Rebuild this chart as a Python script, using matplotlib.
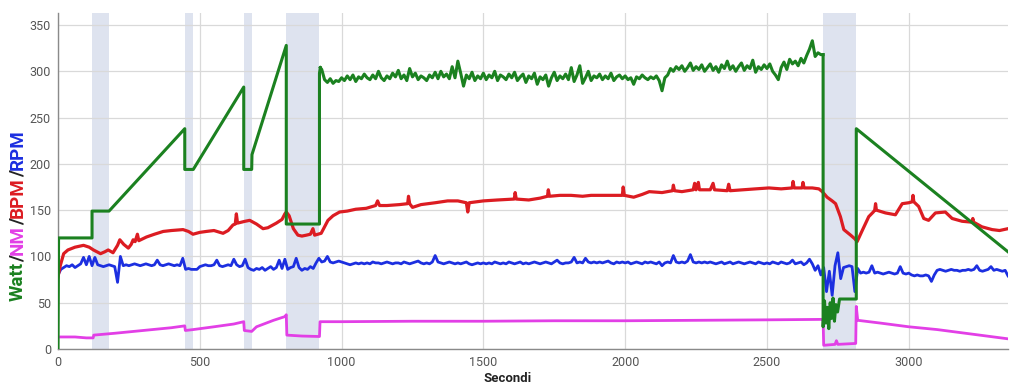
import numpy as np
import matplotlib
matplotlib.use("Agg")
import matplotlib.pyplot as plt

# colours
GREEN = "#1b8120"
RED = "#dc1c22"
BLUE = "#1c2fe0"
MAGENTA = "#e23fe6"
BAND = "#dee3ef"

# shaded intervals (seconds)
band_start = [120, 447, 655, 805, 2698]
band_end = [180, 477, 684, 922, 2815]

# Watt: ramps, noisy steady block, recovery
watt_ramp_t = [0, 2, 120, 120, 180, 447, 447, 477, 655, 655, 683, 684, 805, 805, 922, 922, 925]
watt_ramp_v = [0, 120, 120, 149, 149, 238, 194, 194, 283, 194, 194, 210, 328, 135, 135, 298, 304]
watt_noisy_t = np.arange(930, 2700, 10)
watt_noisy_v = [
    302, 291, 288, 292, 287, 290, 289,
    293, 290, 295, 291, 296, 289, 294, 292, 297, 293,
    291, 296, 292, 300, 293, 290, 295, 292, 298, 294,
    301, 292, 296, 290, 303, 294, 298, 291, 295, 293,
    290, 296, 293, 299, 292, 300, 294, 297, 292, 305,
    293, 311, 298, 284, 296, 292, 299, 290, 295, 292,
    298, 291, 296, 293, 300, 290, 296, 294, 291, 297,
    293, 299, 290, 294, 297, 288, 295, 292, 298, 286,
    294, 291, 296, 284, 293, 299, 290, 295, 292, 297,
    291, 304, 289, 296, 306, 287, 293, 300, 290, 295,
    293, 297, 291, 295, 292, 298, 290, 294, 296, 292,
    295, 291, 293, 286, 294, 292, 296, 293, 291, 294,
    292, 295, 290, 279, 293, 296, 303, 300, 305, 302,
    306, 300, 304, 309, 301, 305, 302, 307, 300, 304,
    308, 301, 305, 299, 307, 303, 311, 302, 306, 300,
    305, 309, 301, 306, 303, 312, 299, 305, 302, 307,
    303, 308, 300, 296, 291, 304, 310, 302, 313, 308,
    311, 306, 314, 309, 317, 324, 333, 316, 320, 318,
]
watt_end_t = [2698, 2698, 2703, 2708, 2713, 2718, 2723, 2728, 2733, 2738, 2743, 2749, 2756, 2815, 2815, 3350]
watt_end_v = [318, 24, 52, 28, 45, 22, 50, 33, 55, 30, 48, 40, 54, 54, 238, 105]

# BPM
bpm_t = [0, 8, 20, 35, 60, 90, 110, 125, 150, 165, 177, 194, 210, 218, 232, 248, 258, 265,
         272, 280, 285, 312, 340, 371, 400, 441, 460, 476, 500, 523, 550, 582, 600, 617, 625,
         629, 633, 660, 676, 700, 723, 740, 770, 790, 800, 805, 815, 830, 846, 860, 876, 890,
         899, 905, 928, 940, 952, 970, 993, 1020, 1050, 1087, 1120, 1127, 1134, 1160, 1204,
         1233, 1236, 1240, 1250, 1280, 1330, 1374, 1410, 1440, 1445, 1450, 1500, 1550, 1609,
         1612, 1616, 1660, 1700, 1726, 1729, 1733, 1770, 1809, 1850, 1880, 1920, 1960, 1990,
         1993, 1997, 2030, 2060, 2085, 2130, 2167, 2170, 2174, 2200, 2240, 2245, 2250, 2258,
         2262, 2300, 2310, 2315, 2360, 2365, 2370, 2413, 2460, 2507, 2550, 2589, 2592, 2596,
         2624, 2627, 2631, 2660, 2683, 2695, 2712, 2730, 2742, 2759, 2771, 2795, 2810, 2818,
         2836, 2859, 2875, 2880, 2883, 2886, 2918, 2953, 2977, 3000, 3012, 3015, 3018, 3035,
         3053, 3070, 3094, 3129, 3153, 3188, 3223, 3226, 3229, 3258, 3294, 3320, 3350]
bpm_v = [78, 90, 103, 107, 110, 112, 110, 107, 103, 105, 107, 104, 112, 118, 113, 109, 113, 118,
         116, 124, 117, 121, 124, 127, 128, 129, 127, 124, 126, 127, 128, 125, 128, 134, 135,
         146, 136, 138, 139, 135, 130, 131, 136, 140, 146, 148, 144, 130, 123, 122, 123, 124,
         130, 123, 125, 132, 139, 144, 148, 149, 151, 152, 155, 160, 155, 155, 156,
         157, 165, 157, 153, 156, 158, 160, 160, 158, 148, 158, 160, 161, 162,
         169, 162, 161, 163, 165, 172, 165, 166, 166, 165, 166, 166, 166, 166,
         175, 166, 164, 167, 170, 169, 171, 177, 171, 170, 172, 179, 172, 180,
         172, 172, 179, 172, 171, 178, 171, 172, 173, 174, 173, 174, 181, 174,
         174, 180, 174, 174, 173, 170, 164, 160, 157, 143, 129, 123, 119, 116,
         128, 143, 148, 150, 157, 150, 147, 145, 157, 158, 159, 166, 159, 154,
         141, 139, 147, 148, 141, 138, 137, 141, 137, 132, 129, 128, 130]

# RPM, every 10 s
rpm_t = np.arange(0, 3351, 10)
rpm_v = [
    80, 86, 88, 90, 89, 91, 88, 90, 92, 99,
    91, 100, 90, 99, 91, 90, 89, 90, 91, 90,
    89, 72, 100, 90, 91, 90, 91, 92, 91, 90,
    91, 92, 91, 90, 91, 96, 91, 90, 91, 92,
    91, 90, 91, 90, 98, 86, 87, 86, 86, 86,
    89, 90, 91, 90, 90, 91, 96, 90, 89, 90,
    91, 90, 97, 91, 89, 90, 97, 88, 86, 85,
    87, 86, 88, 85, 87, 89, 86, 88, 96, 87,
    97, 86, 88, 89, 98, 88, 85, 87, 86, 89,
    87, 93, 98, 94, 95, 100, 94, 93, 94, 95,
    94, 93, 92, 91, 92, 93, 92, 93, 92, 93,
    92, 94, 93, 93, 92, 93, 94, 93, 92, 93,
    93, 92, 94, 93, 92, 93, 94, 95, 93, 92,
    93, 92, 94, 101, 94, 93, 92, 93, 94, 93,
    92, 93, 92, 93, 94, 92, 91, 92, 93, 92,
    93, 92, 93, 92, 94, 93, 92, 93, 92, 94,
    93, 92, 93, 94, 92, 93, 92, 93, 94, 93,
    92, 93, 94, 93, 92, 94, 96, 93, 92, 93,
    93, 94, 99, 93, 94, 93, 98, 94, 93, 94,
    93, 94, 93, 94, 95, 93, 92, 94, 93, 94,
    93, 94, 92, 93, 94, 93, 92, 94, 93, 94,
    93, 92, 94, 90, 93, 94, 93, 101, 94, 93,
    94, 93, 95, 102, 94, 93, 94, 93, 94, 93,
    94, 93, 92, 93, 94, 92, 93, 94, 92, 93,
    94, 93, 92, 93, 94, 93, 92, 94, 93, 92,
    93, 92, 94, 93, 92, 94, 93, 92, 93, 96,
    92, 93, 94, 91, 93, 97, 92, 85, 90, 80,
    88, 62, 84, 58, 90, 104, 76, 88, 89, 90,
    89, 62, 87, 82, 83, 82, 83, 90, 82, 83,
    82, 81, 82, 83, 82, 81, 82, 89, 82, 81,
    82, 80, 79, 80, 79, 79, 80, 79, 73, 80,
    85, 86, 85, 84, 85, 86, 85, 85, 84, 85,
    85, 86, 85, 86, 90, 85, 84, 85, 86, 89,
    85, 86, 85, 84, 85, 79,
]

# NM
nm_t = [0, 60, 100, 124, 126, 200, 300, 400, 447, 449, 477, 550, 620, 655, 657, 683, 700, 760,
        800, 805, 807, 860, 922, 924, 1000, 1250, 1500, 1750, 2000, 2250, 2500, 2695, 2698,
        2700, 2740, 2745, 2750, 2813, 2815, 2820, 2900, 3000, 3100, 3200, 3300, 3350]
nm_v = [13, 13, 12, 12, 15, 17, 20, 23, 25, 20, 21, 24, 27, 29.5, 20, 19, 24, 31,
        35, 37, 15, 14, 13.5, 29.5, 29.5, 30, 30, 30.5, 30.5, 31, 31.5, 32, 32,
        4, 5, 9, 5, 6, 46, 31, 28, 24, 21, 17, 13, 11]

fig = plt.figure(figsize=(10.24, 3.87), dpi=100)
ax = fig.add_axes([58 / 1024, 1 - 349 / 387, 950 / 1024, 336 / 387])

for s, e in zip(band_start, band_end):
    ax.axvspan(s, e, color=BAND, lw=0, zorder=0)

ax.plot(nm_t, nm_v, color=MAGENTA, lw=2.0, zorder=3)
ax.plot(rpm_t, rpm_v, color=BLUE, lw=2.0, zorder=4)
ax.plot(bpm_t, bpm_v, color=RED, lw=2.3, zorder=5)
ax.plot(watt_ramp_t, watt_ramp_v, color=GREEN, lw=2.2, zorder=6)
ax.plot(np.concatenate([[925], watt_noisy_t, [2698]]),
        np.concatenate([[304], watt_noisy_v, [318]]), color=GREEN, lw=2.2, zorder=6)
ax.plot(watt_end_t, watt_end_v, color=GREEN, lw=2.2, zorder=6)

ax.set_xlim(0, 3350)
ax.set_ylim(0, 363)
ax.set_xticks([0, 500, 1000, 1500, 2000, 2500, 3000])
ax.set_yticks([0, 50, 100, 150, 200, 250, 300, 350])
ax.grid(True, color="#d9d9d9", lw=0.9, zorder=1)
ax.set_axisbelow(True)
for side in ["top", "right"]:
    ax.spines[side].set_visible(False)
for side in ["left", "bottom"]:
    ax.spines[side].set_color("#8a8a8a")
    ax.spines[side].set_linewidth(1.0)
ax.tick_params(length=0, labelsize=9, labelcolor="#555555", pad=5)
for lab in ax.get_xticklabels() + ax.get_yticklabels():
    lab.set_family("Roboto")

ax.set_xlabel("Secondi", fontsize=9.5, fontweight="bold", color="#222222", family="Roboto")
ax.xaxis.set_label_coords((508 - 58) / 950, -0.068)

# multicoloured y label
parts = [("Watt", GREEN), ("/", "#222222"), ("NM", MAGENTA), ("/", "#222222"),
         ("BPM", RED), ("/", "#222222"), ("RPM", BLUE)]
renderer = fig.canvas.get_renderer()
texts = []
for s, c in parts:
    t = fig.text(18 / 1024, 0, s, rotation=90, color=c, fontsize=13.5, fontweight="bold",
                 family="Roboto", ha="center", va="bottom")
    texts.append(t)
heights = [t.get_window_extent(renderer).height / fig.bbox.height for t in texts]
y = (1 - 215 / 387) - sum(heights) / 2
for t, h in zip(texts, heights):
    t.set_y(y)
    y += h

fig.savefig("out.png", dpi=100)
